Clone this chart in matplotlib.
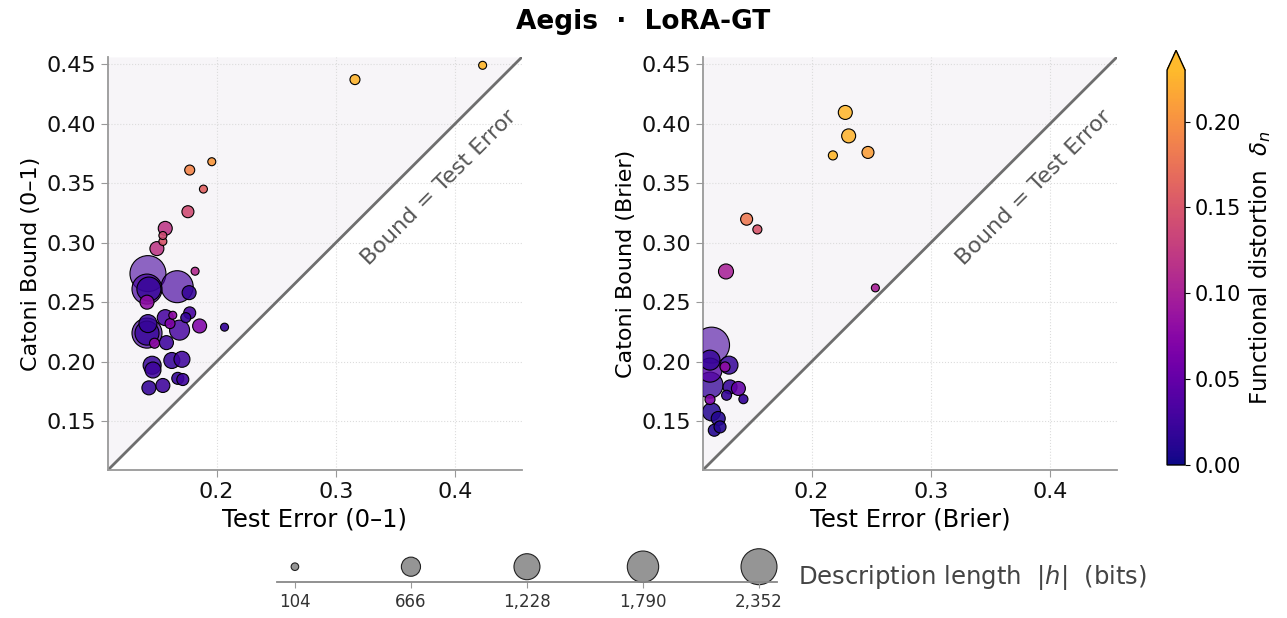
import numpy as np
import matplotlib.pyplot as plt
from matplotlib.colors import Normalize, ListedColormap

# left panel: 0-1 loss
err_01 = [0.423, 0.316, 0.196, 0.1775, 0.189, 0.176, 0.157, 0.155, 0.155, 0.150,
          0.182, 0.1425, 0.167, 0.1417, 0.1433, 0.177, 0.1417, 0.1633, 0.1775, 0.157,
          0.1742, 0.1858, 0.161, 0.1425, 0.1417, 0.1417, 0.169, 0.148, 0.158, 0.2067,
          0.146, 0.1467, 0.1625, 0.171, 0.1433, 0.155, 0.1675, 0.1717]
bound_01 = [0.449, 0.437, 0.368, 0.361, 0.345, 0.326, 0.312, 0.306, 0.301, 0.295,
            0.276, 0.274, 0.263, 0.261, 0.261, 0.258, 0.250, 0.239, 0.241, 0.237,
            0.237, 0.230, 0.232, 0.232, 0.224, 0.224, 0.2265, 0.2155, 0.216, 0.229,
            0.197, 0.193, 0.201, 0.202, 0.178, 0.180, 0.186, 0.185]
bits_01 = [116, 182, 116, 182, 116, 262, 356, 116, 116, 356,
           116, 2352, 1860, 1640, 1050, 356, 356, 116, 262, 465,
           182, 356, 182, 590, 1640, 1050, 727, 182, 356, 116,
           590, 465, 465, 465, 356, 356, 262, 262]
delta_01 = [0.228, 0.225, 0.205, 0.19, 0.16, 0.14, 0.12, 0.14, 0.15, 0.12,
            0.11, 0.03, 0.03, 0.03, 0.02, 0.02, 0.08, 0.08, 0.03, 0.03,
            0.02, 0.07, 0.07, 0.02, 0.03, 0.02, 0.03, 0.08, 0.025, 0.02,
            0.02, 0.025, 0.02, 0.025, 0.02, 0.025, 0.02, 0.025]

# right panel: Brier
err_br = [0.2283, 0.2311, 0.2179, 0.2473, 0.1456, 0.1546, 0.1283, 0.2535, 0.1162, 0.1149,
          0.1308, 0.1275, 0.1149, 0.1149, 0.1387, 0.1317, 0.1288, 0.1429, 0.1149, 0.1162,
          0.1218, 0.1233, 0.1185]
bound_br = [0.4094, 0.3897, 0.3733, 0.3758, 0.3197, 0.3111, 0.2758, 0.2620, 0.2139, 0.2013,
            0.1971, 0.1956, 0.1929, 0.1803, 0.1775, 0.1788, 0.1718, 0.1685, 0.1682, 0.1578,
            0.1523, 0.1452, 0.1424]
bits_br = [356, 356, 150, 262, 262, 150, 410, 116, 2352, 727,
           590, 182, 1050, 1230, 356, 356, 182, 150, 182, 590,
           356, 262, 262]
delta_br = [0.228, 0.225, 0.228, 0.21, 0.18, 0.15, 0.10, 0.10, 0.03, 0.02,
            0.02, 0.08, 0.04, 0.02, 0.05, 0.02, 0.02, 0.02, 0.07, 0.01,
            0.01, 0.01, 0.01]

LEGEND_BITS = [104, 666, 1228, 1790, 2352]
CB_TICKS = [0.00, 0.05, 0.10, 0.15, 0.20]
LIMS = (0.109, 0.456)
SIZE_K = 0.285

cmap = ListedColormap(plt.get_cmap('plasma')(np.linspace(0.0, 0.85, 256)))
norm = Normalize(vmin=0.0, vmax=0.23)


def panel(ax, err, bound, bits, delta, xlabel, ylabel):
    lo, hi = LIMS
    ax.fill_between([lo, hi], [lo, hi], hi, color='#f7f5f8', zorder=0, lw=0)
    ax.plot([lo, hi], [lo, hi], color='#6e6e6e', lw=2.0, zorder=1)
    ax.text(0.386, 0.346, 'Bound = Test Error', rotation=45, ha='center', va='center',
            fontsize=16, color='#555555')
    err, bound, bits, delta = map(np.asarray, (err, bound, bits, delta))
    order = np.argsort(-bits)
    cols = cmap(norm(delta[order]))
    cols[:, 3] = 0.92 - 0.32 * (bits[order] - 104) / (2352 - 104)
    ax.scatter(err[order], bound[order], s=bits[order] * SIZE_K, c=cols,
               edgecolors='black', linewidths=0.8, zorder=3)
    ax.set_xlim(LIMS)
    ax.set_ylim(LIMS)
    ax.set_xticks([0.2, 0.3, 0.4])
    ax.set_yticks([0.15, 0.20, 0.25, 0.30, 0.35, 0.40, 0.45])
    ax.grid(True, color='#dcdcdc', linestyle=':', lw=0.8, zorder=0)
    ax.set_axisbelow(True)
    for s in ['top', 'right']:
        ax.spines[s].set_visible(False)
    for s in ['left', 'bottom']:
        ax.spines[s].set_color('#999999')
        ax.spines[s].set_linewidth(1.3)
    ax.tick_params(colors='#999999', labelcolor='#111111', labelsize=16, length=5)
    ax.set_xlabel(xlabel, fontsize=17.5)
    ax.set_ylabel(ylabel, fontsize=16)


fig = plt.figure(figsize=(12.87, 6.18), dpi=100)
ax1 = fig.add_axes([0.0839, 0.2395, 0.3217, 0.6683])
ax2 = fig.add_axes([0.5462, 0.2395, 0.3217, 0.6683])
panel(ax1, err_01, bound_01, bits_01, delta_01, 'Test Error (0–1)', 'Catoni Bound (0–1)')
panel(ax2, err_br, bound_br, bits_br, delta_br, 'Test Error (Brier)', 'Catoni Bound (Brier)')

fig.suptitle('Aegis  ·  LoRA-GT', fontsize=19, fontweight='bold', y=0.986)

# colorbar
cax = fig.add_axes([0.9068, 0.2476, 0.014, 0.671])
sm = plt.cm.ScalarMappable(norm=norm, cmap=cmap)
cb = fig.colorbar(sm, cax=cax, extend='max', ticks=CB_TICKS)
cb.ax.tick_params(labelsize=15)
cb.outline.set_linewidth(1.0)
cb.set_label('Functional distortion  $\\delta_n$', fontsize=16.5)

# size legend
lax = fig.add_axes([0.2152, 0.058, 0.3885, 0.05])
lax.scatter(LEGEND_BITS, [0] * len(LEGEND_BITS), s=np.array(LEGEND_BITS) * SIZE_K,
            color='#959595', edgecolors='#222222', linewidths=0.8, clip_on=False)
lax.set_xlim(17, 2439)
lax.set_ylim(-1, 1)
lax.set_xticks(LEGEND_BITS)
lax.set_xticklabels([f'{b:,}' for b in LEGEND_BITS])
lax.set_yticks([])
for s in ['top', 'right', 'left']:
    lax.spines[s].set_visible(False)
lax.spines['bottom'].set_color('#888888')
lax.spines['bottom'].set_linewidth(1.3)
lax.patch.set_visible(False)
lax.tick_params(axis='x', colors='#999999', labelcolor='#333333', labelsize=12, length=4)
fig.text(0.62, 0.066, 'Description length  $|h|$  (bits)', fontsize=17.5,
         color='#444444', va='center', ha='left')

fig.savefig('out.png', dpi=100)
